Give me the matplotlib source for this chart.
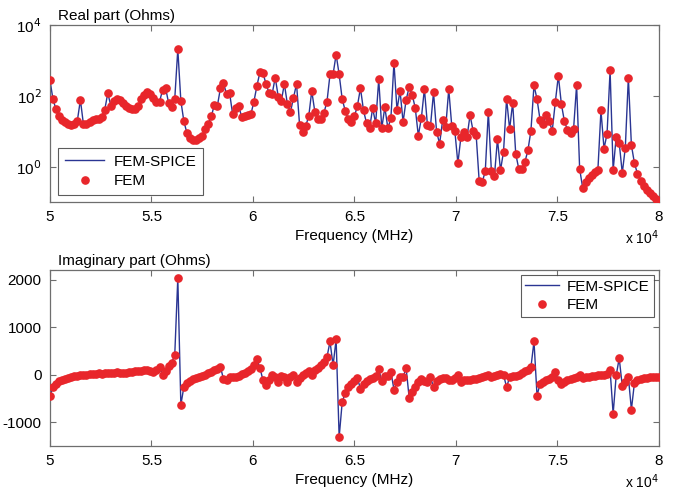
import numpy as np
import matplotlib
matplotlib.use("Agg")
import matplotlib.pyplot as plt
from matplotlib.ticker import FuncFormatter, FixedLocator, NullLocator

## sweep: 201 points, 50 kHz .. 80 kHz (axis shown as x 10^4)
freq = np.linspace(50000, 80000, 201)

## real part, read as log10(Ohms)
real_log10 = [
    2.45, 1.90, 1.62, 1.44, 1.32, 1.25, 1.21, 1.19, 1.20, 1.30,
    1.89, 1.20, 1.22, 1.27, 1.32, 1.34, 1.35, 1.40, 1.61, 2.08,
    1.72, 1.85, 1.91, 1.88, 1.80, 1.72, 1.65, 1.62, 1.64, 1.72,
    1.90, 2.04, 2.12, 2.06, 1.93, 1.84, 1.84, 2.17, 2.22, 1.79,
    1.68, 1.92, 3.32, 1.86, 1.28, 0.95, 0.81, 0.76, 0.76, 0.80,
    0.88, 1.06, 1.21, 1.42, 1.75, 1.72, 2.22, 2.36, 2.06, 2.09,
    1.49, 1.65, 1.72, 1.40, 1.42, 1.45, 1.48, 1.84, 2.29, 2.68,
    2.64, 2.33, 2.08, 2.06, 2.52, 1.98, 1.86, 2.34, 1.77, 1.54,
    1.95, 2.34, 1.18, 0.99, 1.15, 1.42, 2.14, 1.56, 1.34, 1.34,
    1.52, 1.84, 2.61, 2.61, 3.17, 2.61, 1.91, 1.58, 1.34, 1.26,
    1.42, 1.72, 2.22, 1.59, 1.23, 1.09, 1.65, 1.23, 2.47, 1.09,
    1.68, 1.09, 1.37, 2.94, 1.61, 2.15, 1.26, 1.89, 2.25, 2.03,
    1.66, 0.88, 1.37, 2.20, 1.18, 1.15, 2.10, 0.99, 0.65, 1.32,
    1.11, 2.19, 1.14, 1.01, 0.10, 0.84, 0.99, 0.84, 1.46, 1.01,
    0.90, -0.41, -0.43, -0.13, 1.56, -0.11, -0.27, 0.78, -0.10, 0.43,
    1.92, 1.06, 1.81, 0.37, -0.06, -0.06, 0.13, 0.46, 1.02, 2.30,
    1.91, 1.32, 1.20, 1.45, 1.28, 1.02, 1.82, 2.57, 1.77, 1.28,
    1.04, 0.95, 1.06, 2.31, -0.06, -0.60, -0.44, -0.32, -0.22, -0.14,
    -0.08, 1.59, 0.51, 0.93, 2.72, -0.10, 0.84, 0.67, -0.18, 0.54,
    2.52, 0.61, 0.10, -0.20, -0.39, -0.54, -0.65, -0.74, -0.84, -0.91,
    -0.98,
]

## imaginary part (Ohms)
imag_ohm = [
    -440, -265, -190, -140, -105, -80, -60, -45, -30, -15,
    -5, 0, 5, 10, 20, 25, 30, 20, 30, 35,
    40, 45, 50, 45, 40, 45, 55, 60, 70, 80,
    90, 100, 95, 70, 60, 100, 168, -7, 84, 189,
    250, 421, 2035, -632, -250, -170, -125, -95, -70, -50,
    -15, 5, 30, 65, 95, 130, 170, -90, -110, -55,
    -40, -45, -20, 10, 40, 80, 126, 196, 322, 140,
    -119, -204, -119, -14, -49, -154, -28, -49, -154, -56,
    0, -154, -70, 0, 42, 77, 0, 91, 140, 210,
    260, 372, 702, 196, 744, -1312, -575, -379, -260, -190,
    -140, -70, -295, -190, -140, -98, -70, -28, 126, -140,
    -28, -28, 63, -309, -154, -49, -49, 140, -484, -351,
    -260, -154, -84, -120, -154, -49, -260, -140, -98, -70,
    -70, -119, -119, -70, -14, -154, -119, -110, -105, -90,
    -84, -70, -50, -28, 0, -49, -28, 0, 21, 0,
    -260, -49, -28, -20, 0, 42, 77, 110, 160, 702,
    -435, -190, -154, -119, -84, -49, 63, -119, -190, -154,
    -119, -84, -60, -49, -14, -63, -49, -45, -28, -25,
    -14, -5, 0, 21, 105, -821, -14, 351, -239, -154,
    -49, -730, -168, -119, -84, -70, -63, -55, -49, -49,
    -45,
]

xticks = [50000, 55000, 60000, 65000, 70000, 75000, 80000]
real_yticks = [1e0, 1e2, 1e4]
imag_yticks = [-1000, 0, 1000, 2000]

line_col = '#2a3593'
dot_col = '#e8262b'
axis_col = '#6e6e6e'

plt.rcParams['font.family'] = ['Liberation Sans', 'DejaVu Sans']
plt.rcParams['axes.unicode_minus'] = False
plt.rcParams['font.size'] = 11

fig = plt.figure(figsize=(6.75, 4.93), dpi=100)
ax1 = fig.add_axes([0.074, 0.590, 0.902, 0.359])
ax2 = fig.add_axes([0.074, 0.095, 0.902, 0.357])

real_vals = 10 ** np.array(real_log10)

for ax, y in ((ax1, real_vals), (ax2, imag_ohm)):
    ax.plot(freq, y, color=line_col, lw=1.0, label='FEM-SPICE', zorder=2)
    ax.plot(freq, y, 'o', color=dot_col, ms=5.2, mec=dot_col, label='FEM', zorder=3)
    ax.set_xlim(50000, 80000)
    ax.xaxis.set_major_locator(FixedLocator(xticks))
    ax.xaxis.set_major_formatter(FuncFormatter(lambda v, p: f'{v / 1e4:g}'))
    ax.tick_params(direction='in', top=True, right=True, length=4,
                   color=axis_col, labelsize=11, pad=6)
    for s in ax.spines.values():
        s.set_color(axis_col)
        s.set_linewidth(0.9)
    ax.set_xlabel('Frequency (MHz)', fontsize=11, labelpad=3)
    ax.text(1.0, -0.2, r'x 10$^4$', transform=ax.transAxes, ha='right',
            va='center', fontsize=10)

## top panel, log scale
ax1.set_yscale('log')
ax1.set_ylim(0.1, 1e4)
ax1.yaxis.set_major_locator(FixedLocator(real_yticks))
ax1.yaxis.set_minor_locator(NullLocator())
ax1.yaxis.set_major_formatter(FuncFormatter(lambda v, p: r'10$^{%d}$' % round(np.log10(v))))
ax1.text(0.014, 1.01, 'Real part (Ohms)', transform=ax1.transAxes,
         ha='left', va='bottom', fontsize=11)
leg1 = ax1.legend(loc='lower left', bbox_to_anchor=(0.013, 0.04), borderaxespad=0,
                  fancybox=False, edgecolor='#333333', fontsize=11, handlelength=2.6,
                  handletextpad=0.6, borderpad=0.45, labelspacing=0.35)
leg1.get_frame().set_linewidth(0.8)

## bottom panel, linear
ax2.set_ylim(-1500, 2200)
ax2.yaxis.set_major_locator(FixedLocator(imag_yticks))
ax2.text(0.014, 1.01, 'Imaginary part (Ohms)', transform=ax2.transAxes,
         ha='left', va='bottom', fontsize=11)
leg2 = ax2.legend(loc='upper right', bbox_to_anchor=(0.992, 0.972), borderaxespad=0,
                  fancybox=False, edgecolor='#333333', fontsize=11, handlelength=2.2,
                  handletextpad=0.5, borderpad=0.3, labelspacing=0.3)
leg2.get_frame().set_linewidth(0.8)

fig.savefig('out.png', dpi=100)
